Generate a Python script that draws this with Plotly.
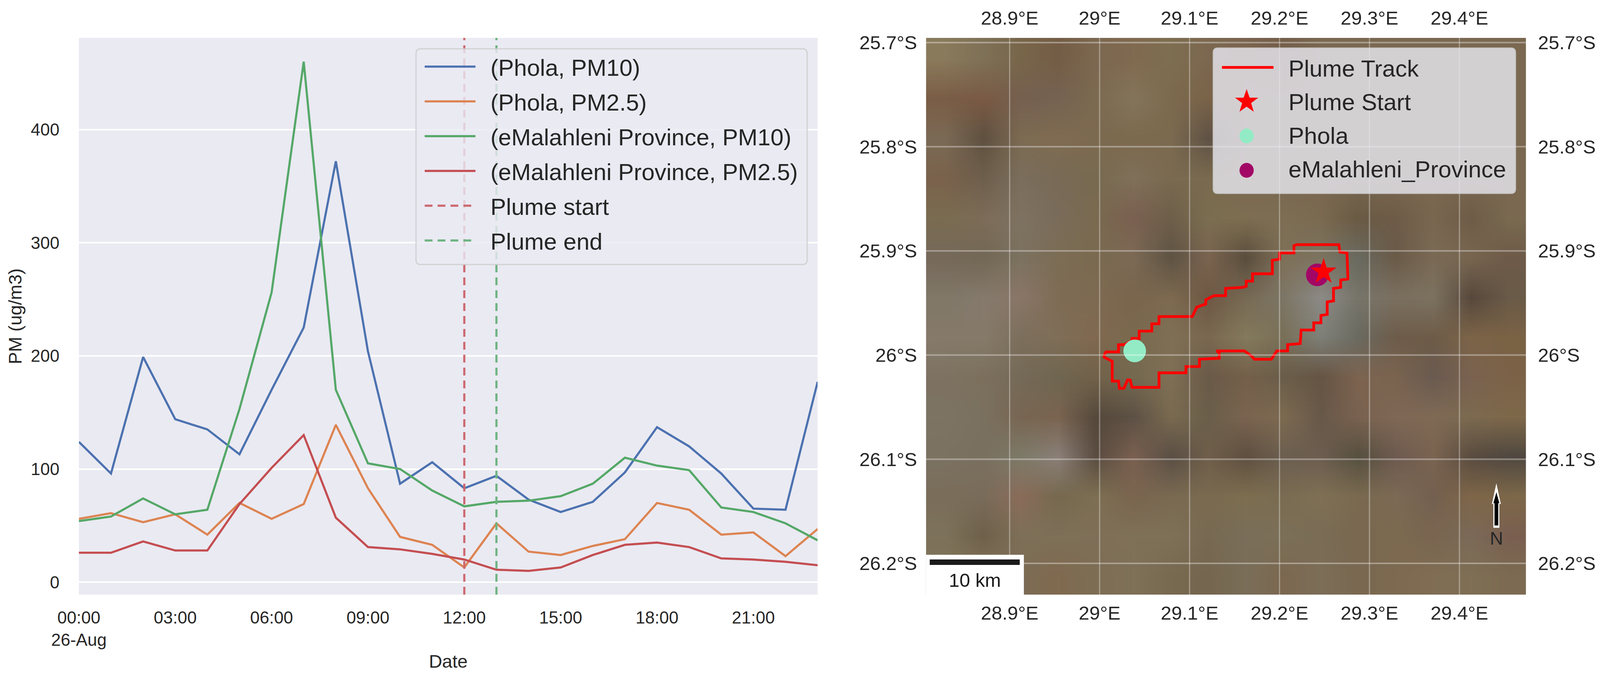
import base64
import struct
import zlib

import plotly.graph_objects as go

FIG_W, FIG_H = 4266, 1738
BODY = 8  # default page margin round the plot div

# hourly PM values
hours = [f"2024-08-26 {h:02d}:00" for h in range(24)]
phola_pm10 = [124, 96, 199, 144, 135, 113, 170, 225, 372, 204, 87, 106, 83, 94, 73, 62, 71, 97, 137, 120, 96, 65, 64, 177]
phola_pm25 = [56, 61, 53, 60, 42, 70, 56, 69, 139, 83, 40, 33, 13, 52, 27, 24, 32, 38, 70, 64, 42, 44, 23, 47]
emal_pm10 = [54, 58, 74, 60, 64, 153, 256, 460, 170, 105, 100, 81, 67, 71, 72, 76, 87, 110, 103, 99, 66, 62, 52, 37]
emal_pm25 = [26, 26, 36, 28, 28, 69, 101, 130, 57, 31, 29, 25, 20, 11, 10, 13, 24, 33, 35, 31, 21, 20, 18, 15]
plume_start = "2024-08-26 12:00"
plume_end = "2024-08-26 13:00"
time_ticks = [f"2024-08-26 {h:02d}:00" for h in range(0, 24, 3)]
time_labels = ["00:00<br>26-Aug", "03:00", "06:00", "09:00", "12:00", "15:00", "18:00", "21:00"]
pm_ticks = [0, 100, 200, 300, 400]

# map panel
lon_ticks = [28.9, 29.0, 29.1, 29.2, 29.3, 29.4]
lon_labels = ["28.9°E", "29°E", "29.1°E", "29.2°E", "29.3°E", "29.4°E"]
lat_ticks = [-25.7, -25.8, -25.9, -26.0, -26.1, -26.2]
lat_labels = ["25.7°S", "25.8°S", "25.9°S", "26°S", "26.1°S", "26.2°S"]
lon_range = [28.807, 29.474]
lat_range = [-26.230, -25.6955]

track_lon = [29.005, 29.007, 29.021, 29.021, 29.028, 29.036, 29.036, 29.044, 29.044, 29.058, 29.058, 29.066,
             29.066, 29.103, 29.108, 29.118, 29.118, 29.127, 29.140, 29.140, 29.159, 29.163, 29.163, 29.170,
             29.170, 29.192, 29.192, 29.200, 29.200, 29.216, 29.216, 29.219, 29.266, 29.267, 29.275, 29.276,
             29.268, 29.268, 29.260, 29.260, 29.253, 29.253, 29.246, 29.246, 29.238, 29.238, 29.224, 29.223,
             29.209, 29.209, 29.197, 29.191, 29.172, 29.169, 29.161, 29.130, 29.133, 29.133, 29.111, 29.111,
             29.096, 29.096, 29.066, 29.066, 29.036, 29.034, 29.031, 29.027, 29.022, 29.021, 29.014, 29.014,
             29.005, 29.005]
track_lat = [-26.000, -25.997, -25.997, -25.990, -25.990, -25.986, -25.984, -25.984, -25.977, -25.977, -25.970, -25.970,
             -25.963, -25.963, -25.954, -25.951, -25.947, -25.943, -25.943, -25.936, -25.935, -25.934, -25.929, -25.929,
             -25.922, -25.922, -25.909, -25.908, -25.902, -25.902, -25.895, -25.894, -25.894, -25.901, -25.902, -25.927,
             -25.928, -25.935, -25.936, -25.948, -25.949, -25.961, -25.962, -25.969, -25.969, -25.976, -25.976, -25.989,
             -25.990, -25.996, -25.996, -26.004, -26.004, -26.001, -25.996, -25.996, -25.998, -26.003, -26.004, -26.011,
             -26.011, -26.017, -26.017, -26.031, -26.031, -26.024, -26.024, -26.032, -26.032, -26.025, -26.025, -26.006,
             -26.002, -26.000]
plume_start_lonlat = (29.249, -25.920)
phola_lonlat = (29.039, -25.996)
emal_lonlat = (29.242, -25.923)

# coarse colours of the satellite picture, north row first
basemap_rows = [
    ["8a7a5c", "7f7157", "78664a", "745d46", "7c6850", "806a50", "7e6e50", "7c6850", "7a644e", "745f4a", "7a6850", "7a6850", "7a6850", "7a6850", "7a6850", "7a6850"],
    ["7a5d46", "7a5a44", "756050", "766352", "7c6a50", "84755a", "7c6a4e", "7a6349", "7a6850", "7a6850", "7a6850", "7a6850", "7a6850", "7a6850", "7a6850", "7a6850"],
    ["7a6a55", "5f5040", "7d6b52", "806c52", "7c6a50", "7c6a4e", "7c6a50", "5f5245", "7a6850", "7a6850", "7a6850", "7a6850", "7a6850", "7a6850", "7a6850", "7a6850"],
    ["7a624c", "6e5f4c", "7a6e5c", "786a56", "786a50", "80705a", "7a6a50", "7a6a4f", "7a6850", "7a6850", "7a6850", "7a6850", "7a6850", "7a6850", "7a6850", "7a6850"],
    ["7a6c50", "7d6c58", "7e7262", "7a6c5a", "7a6a50", "7a6050", "6e5f4a", "7b6e50", "7e6e52", "7d6e54", "7a6a50", "6a5a44", "6e5c48", "7a6750", "6e5c48", "7a6a50"],
    ["76695a", "736855", "7c7260", "7c6d54", "7a6a50", "7c6a55", "5e5343", "7a6450", "5a4d3c", "7f7058", "7c7460", "6a6a60", "6a5a48", "7a6a55", "786650", "6e5a48"],
    ["817868", "857a6c", "8a7668", "7f6c55", "7e6a52", "7a654d", "7d6a50", "6e5844", "776a54", "7d7666", "8c8a86", "77756a", "7b7060", "7c7260", "57483c", "6a5a48"],
    ["867a6a", "867a6a", "7c6f5c", "806e58", "80694f", "7a6a4f", "7f7055", "7a6850", "847a5c", "7a7058", "7e8078", "6a6a60", "6e5c4a", "6e5c48", "7c6448", "7a6245"],
    ["7e7262", "7c705d", "756a58", "6f6650", "72614a", "746a50", "7f6f55", "6a5a48", "75604a", "6a5e4a", "665444", "7c6450", "7a6450", "6a5a50", "7a6250", "7c6348"],
    ["7d7463", "7b7160", "786652", "7a6450", "55493c", "5d5145", "7a6a50", "6a5f4a", "7a6450", "7d6a50", "685849", "7a6250", "7f6855", "7f6a55", "7c6a50", "7e684a"],
    ["7c7262", "7a7060", "7d7a68", "8a7f78", "5a4c40", "7a6050", "5a4f45", "6f5e4a", "5f4f40", "6c5f50", "6c5d50", "56503f", "6e5a50", "7a6450", "5a4c40", "504840"],
    ["7a6e5a", "7a6c5a", "8a6c5a", "76694f", "7d6f52", "7a654f", "7a6a52", "7a6a50", "7d6e50", "7a6c52", "7f7055", "7a6a50", "7c6a55", "746050", "7e6648", "7d684a"],
    ["7d725a", "6e604a", "7e7058", "7e7058", "806f58", "7f7158", "7f7058", "786a52", "7a6e5a", "7c7058", "7a6c55", "7a6850", "7c6a50", "7a6650", "7b6a58", "7a5f50"],
    ["807458", "84765a", "7c6c55", "806a50", "7d6e54", "7f7058", "786a50", "75664f", "7a6e58", "7c6850", "7d6e58", "7a6850", "7d6a50", "806d54", "7f6f55", "7c6b52"],
]

TEXT = "#262626"
FONT = "Liberation Sans"


def px(x):
    return (x - BODY) / (FIG_W - 2 * BODY)


def py(y):
    return 1 - (y - BODY) / (FIG_H - 2 * BODY)


def rounded_box(x0, y0, x1, y1, r=12):
    return (f"M {px(x0 + r)} {py(y0)} L {px(x1 - r)} {py(y0)} Q {px(x1)} {py(y0)} {px(x1)} {py(y0 + r)} "
            f"L {px(x1)} {py(y1 - r)} Q {px(x1)} {py(y1)} {px(x1 - r)} {py(y1)} "
            f"L {px(x0 + r)} {py(y1)} Q {px(x0)} {py(y1)} {px(x0)} {py(y1 - r)} "
            f"L {px(x0)} {py(y0 + r)} Q {px(x0)} {py(y0)} {px(x0 + r)} {py(y0)} Z")


def polygon(points):
    return "M " + " L ".join(f"{px(x)} {py(y)}" for x, y in points) + " Z"


def png_uri(rows):
    # plain RGB png, the browser smooths it when it is stretched over the map
    raw = b"".join(b"\x00" + bytes.fromhex("".join(row)) for row in rows)

    def chunk(tag, data):
        return struct.pack(">I", len(data)) + tag + data + struct.pack(">I", zlib.crc32(tag + data))

    head = struct.pack(">IIBBBBB", len(rows[0]), len(rows), 8, 2, 0, 0, 0)
    png = b"\x89PNG\r\n\x1a\n" + chunk(b"IHDR", head) + chunk(b"IDAT", zlib.compress(raw)) + chunk(b"IEND", b"")
    return "data:image/png;base64," + base64.b64encode(png).decode()


fig = go.Figure()

# left panel
series = [("(Phola, PM10)", phola_pm10, "#4c72b0"), ("(Phola, PM2.5)", phola_pm25, "#dd8452"),
          ("(eMalahleni Province, PM10)", emal_pm10, "#55a868"), ("(eMalahleni Province, PM2.5)", emal_pm25, "#c44e52")]
GAP = "\u00a0\u00a0"
for name, values, colour in series:
    fig.add_trace(go.Scatter(x=hours, y=values, mode="lines", name=GAP + name, legendgroup=name,
                             line=dict(color=colour, width=5.5), xaxis="x", yaxis="y"))
for name, when, colour in [("Plume start", plume_start, "rgb(205,105,112)"), ("Plume end", plume_end, "rgb(110,180,130)")]:
    fig.add_trace(go.Scatter(x=[when, when], y=[-11, 481], mode="lines", name=GAP + name, legendgroup=name,
                             line=dict(color=colour, width=5.5, dash="20px,13px"), xaxis="x", yaxis="y"))

# map panel
fig.add_trace(go.Scatter(x=track_lon, y=track_lat, mode="lines", name=GAP + "Plume Track", legend="legend2",
                         legendgroup="track", legendrank=1, line=dict(color="red", width=7), xaxis="x2", yaxis="y2"))
fig.add_trace(go.Scatter(x=[phola_lonlat[0]], y=[phola_lonlat[1]], mode="markers", name=GAP + "Phola", legend="legend2",
                         legendgroup="phola", legendrank=3, marker=dict(color="#93ebc6", size=58), xaxis="x2", yaxis="y2"))
fig.add_trace(go.Scatter(x=[emal_lonlat[0]], y=[emal_lonlat[1]], mode="markers", name=GAP + "eMalahleni_Province",
                         legend="legend2", legendgroup="emal", legendrank=4, marker=dict(color="#a20766", size=58),
                         xaxis="x2", yaxis="y2"))
fig.add_trace(go.Scatter(x=[plume_start_lonlat[0]], y=[plume_start_lonlat[1]], mode="markers", name=GAP + "Plume Start",
                         legend="legend2", legendgroup="start", legendrank=2,
                         marker=dict(color="red", size=50, symbol="star"), xaxis="x2", yaxis="y2"))
# keeps the top and right map axes alive
fig.add_trace(go.Scatter(x=[lon_ticks[0]], y=[lat_ticks[0]], mode="lines", showlegend=False, hoverinfo="skip",
                         xaxis="x3", yaxis="y3"))

images = [dict(source=png_uri(basemap_rows), xref="x2", yref="y2", x=lon_range[0], y=lat_range[1],
               sizex=lon_range[1] - lon_range[0], sizey=lat_range[1] - lat_range[0], sizing="stretch",
               xanchor="left", yanchor="top", layer="below")]

shapes = []
for v in lon_ticks:
    shapes.append(dict(type="line", xref="x2", yref="paper", x0=v, x1=v, y0=py(1522), y1=py(97), layer="above",
                       line=dict(color="rgba(255,255,255,0.35)", width=3)))
for v in lat_ticks:
    shapes.append(dict(type="line", xref="paper", yref="y2", x0=px(2469), x1=px(4069), y0=v, y1=v, layer="above",
                       line=dict(color="rgba(255,255,255,0.35)", width=4)))

# legend boxes
box_line = dict(color="rgba(204,204,204,0.85)", width=3)
shapes.append(dict(type="path", xref="paper", yref="paper", path=rounded_box(1109, 125, 2152, 677), layer="above",
                   fillcolor="rgba(234,234,242,0.8)", line=box_line))
shapes.append(dict(type="path", xref="paper", yref="paper", path=rounded_box(3235, 123, 4041, 495), layer="above",
                   fillcolor="rgba(234,234,242,0.8)", line=box_line))
# larger legend glyphs under the legend's own capped markers
for y, colour in [(348, "#93ebc6"), (436, "#a20766")]:
    shapes.append(dict(type="circle", xref="paper", yref="paper", x0=px(3305), x1=px(3343), y0=py(y - 19), y1=py(y + 19),
                       layer="above", fillcolor=colour, line=dict(width=0)))
star_pts = [(0, -33), (8, -11), (31, -11), (12, 3), (19, 25), (0, 12), (-19, 25), (-12, 3), (-31, -11), (-8, -11)]
shapes.append(dict(type="path", xref="paper", yref="paper", path=polygon([(3324 + a, 261 + b) for a, b in star_pts]),
                   layer="above", fillcolor="red", line=dict(width=0)))

# scale bar
shapes.append(dict(type="rect", xref="paper", yref="paper", x0=px(2469), x1=px(2730), y0=py(1420), y1=py(1522),
                   layer="above", fillcolor="white", line=dict(width=0)))
shapes.append(dict(type="rect", xref="paper", yref="paper", x0=px(2479), x1=px(2719), y0=py(1432), y1=py(1446),
                   layer="above", fillcolor="#1a1a1a", line=dict(width=0)))

# north arrow
shapes.append(dict(type="path", xref="paper", yref="paper", layer="above", fillcolor="white", line=dict(width=0),
                   path=polygon([(3990, 1237), (4002, 1290), (3998, 1290), (3998, 1351), (3982, 1351), (3982, 1290), (3978, 1290)])))
shapes.append(dict(type="path", xref="paper", yref="paper", layer="above", fillcolor="black", line=dict(width=0),
                   path=polygon([(3990, 1260), (3998, 1288), (3995, 1288), (3995, 1345), (3985, 1345), (3985, 1288), (3982, 1288)])))

annotations = [
    dict(text="10 km", x=px(2599), y=py(1485), xref="paper", yref="paper", showarrow=False,
         xanchor="center", yanchor="middle", font=dict(size=49, color="#1a1a1a", family=FONT)),
    dict(text="N", x=px(3990), y=py(1377), xref="paper", yref="paper", showarrow=False,
         xanchor="center", yanchor="middle", font=dict(size=47, color=TEXT, family=FONT)),
]

tick_font = dict(size=44, color=TEXT, family=FONT)
map_font = dict(size=49, color=TEXT, family=FONT)
CLEAR = "rgba(0,0,0,0)"
map_x = [px(2469), px(4069)]
map_y = [py(1522), py(97)]
bare = dict(automargin=False, showgrid=False, zeroline=False, showline=False, ticks="outside", tickcolor=CLEAR)

# no fixed size: the page fills the browser window
fig.update_layout(
    margin=dict(l=0, r=0, t=0, b=0, pad=0),
    paper_bgcolor="white", plot_bgcolor="#eaeaf2",
    font=dict(family=FONT, color=TEXT),
    shapes=shapes, annotations=annotations, images=images,
    xaxis=dict(bare, domain=[px(210), px(2180)], anchor="y", type="date",
               range=["2024-08-26 00:00", "2024-08-26 23:00"], tickvals=time_ticks, ticktext=time_labels,
               ticklen=20, tickfont=tick_font, title=dict(text="Date", font=dict(size=47, color=TEXT), standoff=15)),
    yaxis=dict(bare, domain=map_y, anchor="x", range=[-11, 481], tickvals=pm_ticks, showgrid=True,
               gridcolor="white", gridwidth=4, ticklen=40, tickfont=tick_font,
               title=dict(text="PM (ug/m3)", font=dict(size=47, color=TEXT), standoff=8)),
    xaxis2=dict(bare, domain=map_x, anchor="y2", range=lon_range, tickvals=lon_ticks, ticktext=lon_labels,
                ticklen=4, tickfont=map_font),
    yaxis2=dict(bare, domain=map_y, anchor="x2", range=lat_range, tickvals=lat_ticks, ticktext=lat_labels,
                ticklen=12, tickfont=map_font),
    xaxis3=dict(bare, overlaying="x2", anchor="y2", side="top", range=lon_range, tickvals=lon_ticks, ticktext=lon_labels,
                ticklen=13, tickfont=map_font),
    yaxis3=dict(bare, overlaying="y2", anchor="x2", side="right", range=lat_range, tickvals=lat_ticks, ticktext=lat_labels,
                ticklen=20, tickfont=map_font),
    legend=dict(x=px(1127), y=py(125), xanchor="left", yanchor="top", bgcolor=CLEAR, borderwidth=0,
                font=dict(size=60, color=TEXT, family=FONT), itemwidth=130, tracegroupgap=8, itemclick=False),
    legend2=dict(x=px(3253), y=py(127), xanchor="left", yanchor="top", bgcolor=CLEAR, borderwidth=0,
                 font=dict(size=60, color=TEXT, family=FONT), itemwidth=132, tracegroupgap=5, itemclick=False),
    showlegend=True,
)

fig.write_html("out.html")
